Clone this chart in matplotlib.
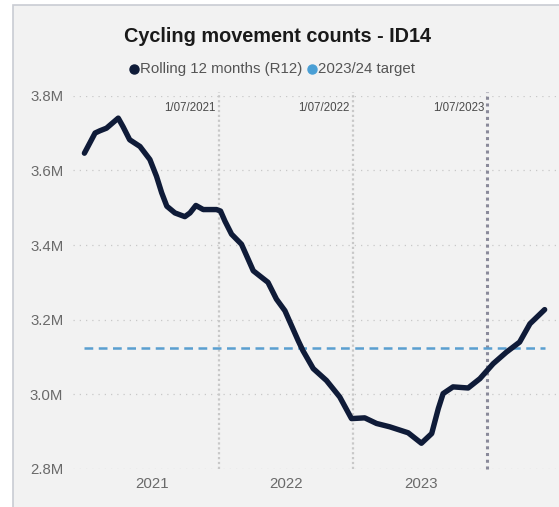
import pandas as pd
import matplotlib.pyplot as plt
from matplotlib.patches import Rectangle
from matplotlib.lines import Line2D

plt.rcParams['font.family'] = ['Liberation Sans', 'DejaVu Sans']

# rolling 12 month cycling counts (millions)
dates = ['2020-07-01', '2020-07-30', '2020-08-12', '2020-08-30', '2020-10-01',
         '2020-10-14', '2020-11-01', '2020-11-29', '2020-12-26', '2021-01-13',
         '2021-01-27', '2021-02-10', '2021-03-04', '2021-03-31', '2021-04-14',
         '2021-04-30', '2021-05-20', '2021-06-25', '2021-07-06', '2021-07-18',
         '2021-08-05', '2021-09-01', '2021-09-15', '2021-10-03', '2021-10-21',
         '2021-11-12', '2021-12-05', '2021-12-28', '2022-01-15', '2022-02-02',
         '2022-02-15', '2022-03-15', '2022-04-20', '2022-05-26', '2022-06-27',
         '2022-08-02', '2022-09-03', '2022-10-09', '2022-11-28', '2023-01-03',
         '2023-01-31', '2023-02-18', '2023-03-03', '2023-03-30', '2023-05-10',
         '2023-06-11', '2023-07-17', '2023-08-22', '2023-09-27', '2023-10-25',
         '2023-12-04']
r12 = [3.646, 3.700, 3.706, 3.713, 3.740,
       3.717, 3.682, 3.664, 3.629, 3.584,
       3.540, 3.504, 3.486, 3.476, 3.486,
       3.506, 3.495, 3.495, 3.491, 3.464,
       3.429, 3.402, 3.371, 3.331, 3.317,
       3.300, 3.255, 3.224, 3.184, 3.144,
       3.117, 3.069, 3.037, 2.993, 2.935,
       2.937, 2.922, 2.913, 2.897, 2.869,
       2.895, 2.962, 3.002, 3.020, 3.017,
       3.042, 3.082, 3.113, 3.140, 3.189,
       3.227]
target = 3.124

ref_dates = ['2021-07-01', '2022-07-01', '2023-07-01']
ref_labels = ['1/07/2021', '1/07/2022', '1/07/2023']
ref_colors = ['#c8c8c8', '#c8c8c8', '#8a8a9a']
ref_widths = [1.6, 1.6, 2.2]

year_ticks = ['2021-01-01', '2022-01-01', '2023-01-01']
year_labels = ['2021', '2022', '2023']
y_ticks = [2.8, 3.0, 3.2, 3.4, 3.6, 3.8]

df = pd.DataFrame({'date': pd.to_datetime(dates), 'r12': r12})

fig = plt.figure(figsize=(5.59, 5.07), dpi=100)
fig.patch.set_facecolor('white')
# visual panel with grey frame
fig.patches.append(Rectangle((13 / 559, -0.01), 1.0, 1 - 5 / 507 + 0.01,
                             transform=fig.transFigure, facecolor='#f2f2f2',
                             edgecolor='#c9ccd3', linewidth=1.2, zorder=-1))

ax = fig.add_axes([73 / 559, 1 - 469 / 507, 486 / 559, (469 - 95.7) / 507])
ax.set_facecolor('none')

ax.set_xlim(pd.Timestamp('2020-05-31'), pd.Timestamp('2024-01-12'))
ax.set_ylim(2.8, 3.8)

for y in y_ticks:
    ax.axhline(y, color='#c8c8c8', linewidth=0.9, linestyle=(0, (1, 4)), zorder=1)

for d, lab, c, w in zip(ref_dates, ref_labels, ref_colors, ref_widths):
    ax.plot([pd.Timestamp(d)] * 2, [0.0, 1.01], color=c, linewidth=w,
            linestyle=(0, (1, 1.2)), transform=ax.get_xaxis_transform(),
            clip_on=False, zorder=1)
    ax.text(pd.Timestamp(d) - pd.Timedelta(days=8), 0.968, lab,
            transform=ax.get_xaxis_transform(), ha='right', va='center',
            fontsize=8.3, color='#4a4a4a')

ax.plot([df['date'].iloc[0], df['date'].iloc[-1]], [target, target],
        color='#5a9fd0', linewidth=1.8, linestyle=(0, (3.5, 2.2)), zorder=2)
ax.plot(df['date'], df['r12'], color='#0f1b38', linewidth=3.9,
        solid_joinstyle='round', solid_capstyle='round', zorder=3)

ax.set_yticks(y_ticks)
ax.set_yticklabels([f'{v:.1f}M' for v in y_ticks])
ax.set_xticks(pd.to_datetime(year_ticks))
ax.set_xticklabels(year_labels)
ax.tick_params(axis='both', length=0, labelsize=10.8, labelcolor='#6a6a6a')
ax.tick_params(axis='y', pad=7)
ax.tick_params(axis='x', pad=6)
for s in ax.spines.values():
    s.set_visible(False)

fig.text(277 / 559, 1 - 36 / 507, 'Cycling movement counts - ID14',
         ha='center', va='center', fontsize=14.3, fontweight='bold', color='#1a1a1a')

# legend line
ly = 1 - 69 / 507
fig.add_artist(Line2D([134 / 559], [ly], marker='o', markersize=6.5, color='#0f1b38',
                      transform=fig.transFigure))
fig.text(140 / 559, ly, 'Rolling 12 months (R12)', ha='left', va='center',
         fontsize=10.8, color='#555555')
fig.add_artist(Line2D([312 / 559], [ly], marker='o', markersize=6.5, color='#4a9fd5',
                      transform=fig.transFigure))
fig.text(318 / 559, ly, '2023/24 target', ha='left', va='center',
         fontsize=10.8, color='#555555')

fig.savefig('out.png', dpi=100)
